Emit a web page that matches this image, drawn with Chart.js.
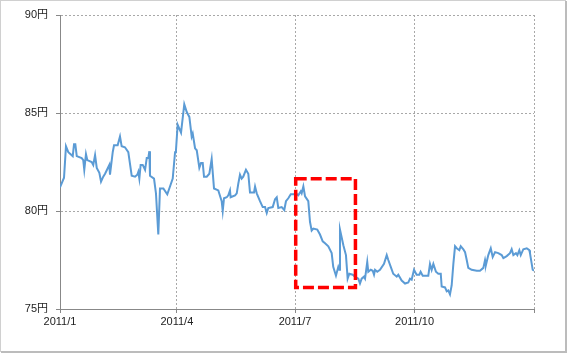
<!DOCTYPE html>
<html><head><meta charset="utf-8">
<script src="https://cdn.jsdelivr.net/npm/chart.js@4"></script>
<style>html,body{margin:0;padding:0;background:#fff;}#wrap{width:568px;height:354px;position:relative;}</style>
</head><body><div id="wrap"><canvas id="c" width="568" height="354"></canvas></div>
<script>
// day of year 2011 (0 = Jan 1)
const days = [0,3.1,4.6,6.4,9.8,10.8,11.8,12.9,16.7,17.9,18.7,20,21,24.4,25.6,27,28.3,30.3,31.6,33.3,34.7,38,38.5,40.6,41.6,44.4,46.2,47.5,50,52.6,55.2,57.8,59.5,60.3,61.1,62.1,63.7,65.5,66.8,68,68.8,69.3,72.4,73.9,75.7,77,79.6,82.6,84.7,86.8,88.6,89.3,90.6,93.2,95.7,97.6,99.6,101.4,102.2,104,105.3,107.3,108.6,109.9,110.9,113,115,116.8,118.6,121.9,124.5,125.3,126.3,128.4,129.6,130.9,131.4,134.8,136.1,137.3,138.6,139.9,141.1,143.2,145,146.3,149.4,150.2,151.5,154,156.1,157.9,159.2,160.4,163.8,165.6,166.9,168.1,170.7,172.7,174,175.8,177.7,180.2,181.7,183.5,185.4,186.1,187.4,188.7,191.2,192.5,193.8,195.1,198.1,200.2,202.3,204.1,206.6,209.2,210.4,212.5,214.3,215.1,215.6,218.2,220.2,221.5,222.8,225.4,227.2,229.7,231,232.3,234.1,234.9,236.6,237.4,239.3,240.8,241.8,242.6,244.3,246.4,249.5,251.6,252.8,254.7,256.6,259.3,260.5,263.1,265.7,268.2,269.5,270.8,272.6,274.6,276.7,277.7,279.3,283.6,284.9,286.2,287.5,289.5,291.3,293.2,293.9,296.5,297.8,299,300.3,301.6,302.9,304.2,305.5,307.5,308.6,310.6,311.9,313.2,314.4,317,320.9,323.4,326,327.3,328,329.8,331.7,333.2,335,337.5,340.1,341.4,344,346.5,347.8,349.1,351.1,352.2,353.7,354.8,356.8,359.4,361.4,361.9,364,365];
const rates = [81.2,81.7,83.3,83.0,82.8,83.4,83.4,82.8,82.7,82.6,82.1,82.9,82.6,82.5,82.35,82.85,82.2,81.95,81.5,81.75,81.9,82.35,81.85,83.0,83.35,83.35,83.8,83.3,83.25,83.0,81.8,81.75,81.85,82.0,81.65,82.35,82.35,82.1,82.7,82.7,83.05,81.8,81.65,80.9,78.8,81.15,81.15,80.85,81.25,81.65,83.0,83.1,84.4,84.0,85.45,85.05,84.8,83.8,83.95,83.2,83.1,82.2,82.45,82.45,81.75,81.75,81.9,82.65,81.15,81.05,80.5,80.0,80.65,80.7,80.8,81.05,80.7,80.8,80.9,81.4,81.85,81.65,81.75,82.1,81.9,80.95,80.95,81.25,80.9,80.5,80.2,80.2,79.9,80.15,80.2,80.6,80.7,80.15,80.2,80.05,80.5,80.65,80.85,80.85,80.9,80.8,81.0,80.9,81.25,80.75,80.5,79.45,79.0,79.1,79.05,78.8,78.45,78.35,78.2,77.85,77.15,76.7,77.15,77.0,79.05,78.25,77.75,76.55,76.8,76.75,76.65,76.55,76.3,76.55,76.65,76.55,77.4,76.9,77.0,76.95,76.75,77.0,76.9,77.0,77.3,77.75,77.5,77.15,76.8,76.65,76.75,76.45,76.3,76.35,76.55,76.5,77.0,76.75,76.75,76.9,76.7,76.7,77.3,77.0,77.3,76.9,76.8,76.8,76.15,76.1,75.9,75.95,75.75,76.2,77.3,78.2,78.1,78.0,78.2,78.05,77.9,77.5,77.1,77.0,76.95,76.95,77.1,77.5,77.25,77.75,78.1,77.65,77.9,77.85,77.75,77.6,77.7,77.85,78.05,77.75,77.85,77.75,78.0,77.75,78.05,78.1,78.0,77.85,77.0,76.95];
const tickDays = [0, 90, 181, 273, 365];
const tickLabels = ['2011/1', '2011/4', '2011/7', '2011/10', ''];
const yTicks = [75, 80, 85, 90];
// highlighted period: [startDay, endDay, lowRate, highRate]
const highlight = [181.5, 227.5, 76.1, 81.65];

const frame = {
  id: 'frame',
  beforeDraw(chart) {
    const ctx = chart.ctx;
    ctx.save();
    ctx.fillStyle = '#fff';
    ctx.fillRect(0, 0, 568, 354);
    ctx.strokeStyle = '#d0d0d0';
    ctx.lineWidth = 1;
    ctx.strokeRect(0.5, 0.5, 565, 351);
    ctx.fillStyle = '#bcbcbc';
    ctx.fillRect(565, 1, 2, 352);
    ctx.fillRect(1, 351, 566, 2);
    ctx.restore();
  }
};
const box = {
  id: 'box',
  afterDatasetsDraw(chart) {
    const {ctx, scales: {x, y}} = chart;
    const x1 = x.getPixelForValue(highlight[0]), x2 = x.getPixelForValue(highlight[1]);
    const y1 = y.getPixelForValue(highlight[3]), y2 = y.getPixelForValue(highlight[2]);
    ctx.save();
    ctx.strokeStyle = '#ff0000';
    ctx.lineWidth = 3.5;
    ctx.setLineDash([11, 4]);
    ctx.strokeRect(x1, y1, x2 - x1, y2 - y1);
    ctx.restore();
  }
};

const font = {family: "'Liberation Sans', 'Noto Sans CJK JP', sans-serif", size: 11};
new Chart(document.getElementById('c'), {
  type: 'line',
  data: {
    datasets: [{
      data: days.map((d, i) => ({x: d, y: rates[i]})),
      borderColor: '#5B9BD5',
      borderWidth: 2,
      pointRadius: 0,
      tension: 0,
      fill: false
    }]
  },
  options: {
    responsive: false,
    animation: false,
    events: [],
    layout: {padding: {left: 0, top: 15, right: 34, bottom: 0}},
    plugins: {legend: {display: false}, tooltip: {enabled: false}},
    scales: {
      x: {
        type: 'linear', min: 0, max: 365,
        afterBuildTicks(s) { s.ticks = tickDays.map(v => ({value: v})); },
        afterFit(s) { s.height = 45; },
        ticks: {
          autoSkip: false, maxRotation: 0, padding: 2, color: '#222', font,
          callback: (v, i) => tickLabels[i]
        },
        grid: {color: '#a8a8a8', tickColor: '#888', tickLength: 4, tickBorderDash: []},
        border: {display: true, color: '#888', width: 1, dash: [2, 2]}
      },
      y: {
        min: 75, max: 90,
        afterBuildTicks(s) { s.ticks = yTicks.map(v => ({value: v})); },
        afterFit(s) { s.width = 60; },
        ticks: {padding: 8, color: '#222', font, callback: v => v + '円'},
        grid: {color: '#a8a8a8', tickColor: '#888', tickLength: 4, tickBorderDash: []},
        border: {display: true, color: '#888', width: 1, dash: [2, 2]}
      }
    }
  },
  plugins: [frame, box]
});
</script></body></html>
